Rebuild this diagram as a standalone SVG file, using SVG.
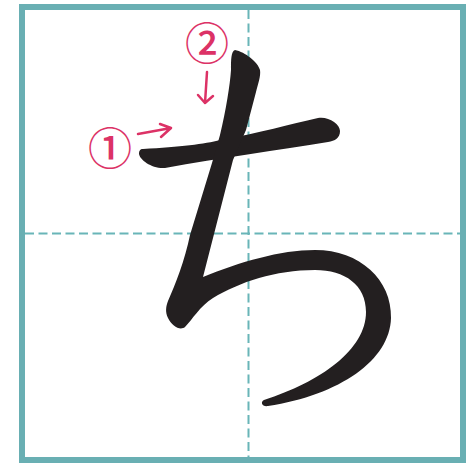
<svg xmlns="http://www.w3.org/2000/svg" width="466" height="463" viewBox="0 0 466 463">
<style>
.frame{fill:none;stroke:#69afb3;stroke-width:6}
.guide{fill:none;stroke:#69b5b8;stroke-width:2;stroke-dasharray:9 4.5}
.ink{fill:#231f20}
.arrow{fill:none;stroke:#dc3266;stroke-width:2.5;stroke-linecap:round;stroke-linejoin:round}
.num{fill:#dc3266;font-family:"Noto Sans CJK JP","DejaVu Sans",sans-serif;font-size:44px;font-weight:500;text-anchor:middle}
</style>
<rect width="466" height="463" fill="#ffffff"/>
<g id="grid">
<line class="guide" x1="248.5" y1="10" x2="248.5" y2="457"/>
<line class="guide" x1="25" y1="233.5" x2="460" y2="233.5"/>
<rect class="frame" x="22" y="7" width="441" height="453"/>
</g>
<g id="stroke1">
<path class="ink" d="M143,149 C180,147 205,144 220,140 C260,133 290,124 318,118 C328,116 340,124 340,131 C340,138 335,141 328,142 C280,150 220,158 165,168 C152,169 140,160 139,154 C139,151 140,149 143,149 Z"/>
</g>
<g id="stroke2">
<path class="ink" d="M235,50 C245,52 258,62 260,70 C261,76 258,84 256,92 L246,130 L233,160 L203,277 C240,262 280,250 315,250 C360,250 392,280 391,318 C390,360 340,395 268,406 C262,407 260,402 264,400 C320,382 366,350 366,312 C366,285 345,270 315,270 C275,270 240,282 213,298 C200,306 192,320 185,327 C180,331 172,326 168,318 C165,312 166,306 168,301 C175,285 185,260 190,235 L212,163 L220,135 C226,110 230,85 231,70 C231,60 231,51 235,50 Z"/>
</g>
<g id="order1">
<path class="arrow" d="M138,134 L171,128 M160,124 L171,128 L161,137"/>
<text class="num" x="110" y="165">①</text>
</g>
<g id="order2">
<path class="arrow" d="M207,72 L205,103 M198,95 L205,103 L213,96"/>
<text class="num" x="207" y="60">②</text>
</g>
</svg>
